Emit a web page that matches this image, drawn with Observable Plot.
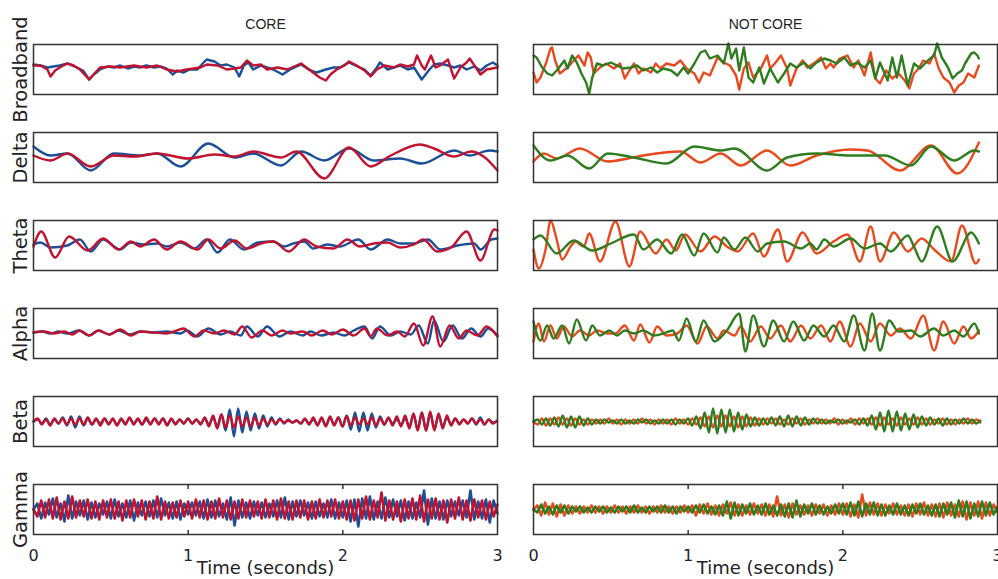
<!DOCTYPE html>
<html><head><meta charset="utf-8">
<script src="https://cdn.jsdelivr.net/npm/d3@7"></script>
<script src="https://cdn.jsdelivr.net/npm/@observablehq/plot@0.6"></script>
<style>body{margin:0;background:#fff}</style>
</head><body><div id="chart"></div>
<script>
const bands = ["Broadband","Delta","Theta","Alpha","Beta","Gamma"];
const columns = ["CORE","NOT CORE"];
const xTicks = [0,1,2,3];
const innerTicks = [1,2];
const xLabel = "Time (seconds)";
const seriesColors = {blue:"#1b4f97", red:"#c1122f", orange:"#e8491d", green:"#2e7d1f"};

// [time (s), amplitude] pairs
const broadbandCoreBlue = [[0,5],[0.045,4],[0.09,2],[0.13,3],[0.17,4],[0.22,6],[0.25,4],[0.28,2],[0.32,-1],[0.36,-10],[0.39,-5],[0.43,0],[0.48,3],[0.52,2],[0.56,4],[0.61,1],[0.65,3],[0.69,2],[0.73,4],[0.78,2],[0.82,3],[0.86,1],[0.90,-5],[0.93,-1],[0.97,-3],[1.01,0],[1.06,0],[1.10,7],[1.12,10],[1.17,8],[1.21,4],[1.25,5],[1.30,2],[1.33,-7],[1.36,4],[1.39,7],[1.42,0],[1.47,4],[1.51,2],[1.55,0],[1.61,-5],[1.66,0],[1.73,5],[1.78,0],[1.83,-3],[1.89,0],[1.94,2],[1.98,2],[2.04,7],[2.08,4],[2.14,0],[2.18,-6],[2.22,2],[2.24,7],[2.29,0],[2.33,2],[2.37,4],[2.42,0],[2.46,2],[2.51,-10],[2.56,0],[2.59,5],[2.63,6],[2.68,4],[2.72,2],[2.76,4],[2.80,0],[2.85,3],[2.89,-1],[2.93,4],[2.97,7],[3.0,4]];
const broadbandCoreRed = [[0,4],[0.045,4],[0.09,0],[0.11,-7],[0.14,-1],[0.18,3],[0.22,6],[0.26,4],[0.30,0],[0.36,-10],[0.40,-3],[0.43,2],[0.50,3],[0.56,2],[0.65,4],[0.73,2],[0.80,4],[0.86,0],[0.93,-2],[0.99,0],[1.08,2],[1.12,5],[1.19,4],[1.25,0],[1.30,1],[1.34,2],[1.38,9],[1.42,4],[1.47,5],[1.51,0],[1.58,2],[1.64,0],[1.73,6],[1.79,-1],[1.85,-8],[1.89,-11],[1.92,-5],[1.96,0],[2.01,4],[2.04,8],[2.09,4],[2.14,-1],[2.18,-7],[2.22,0],[2.27,4],[2.33,2],[2.37,5],[2.42,3],[2.46,5],[2.48,14],[2.51,4],[2.53,0],[2.57,14],[2.60,2],[2.63,4],[2.68,10],[2.70,0],[2.72,-9],[2.76,2],[2.80,7],[2.82,11],[2.86,2],[2.89,-5],[2.93,0],[3.0,2]];
const broadbandNotCoreOrange = [[0,-3],[0.02,-13],[0.045,-8],[0.08,6],[0.11,21],[0.12,22],[0.14,9],[0.17,-4],[0.22,2],[0.26,9],[0.29,14],[0.33,4],[0.35,17],[0.37,12],[0.39,-4],[0.43,2],[0.47,6],[0.52,1],[0.56,6],[0.59,-9],[0.62,-1],[0.65,6],[0.68,-4],[0.71,1],[0.76,-3],[0.79,6],[0.82,1],[0.86,6],[0.91,4],[0.95,9],[0.99,1],[1.04,-4],[1.07,-13],[1.10,-3],[1.14,-6],[1.19,12],[1.23,7],[1.27,4],[1.31,-6],[1.33,-20],[1.36,1],[1.39,7],[1.42,-8],[1.47,1],[1.51,14],[1.53,1],[1.56,6],[1.60,14],[1.64,1],[1.66,-16],[1.70,1],[1.74,9],[1.77,2],[1.82,7],[1.86,12],[1.89,1],[1.92,6],[1.94,2],[1.98,11],[2.03,14],[2.07,2],[2.10,9],[2.14,-6],[2.18,17],[2.21,-9],[2.24,-14],[2.28,-1],[2.32,-9],[2.36,-4],[2.40,-11],[2.43,-19],[2.46,-4],[2.49,1],[2.52,9],[2.56,6],[2.59,16],[2.62,1],[2.65,-8],[2.69,-13],[2.72,-23],[2.75,-16],[2.78,-13],[2.81,-4],[2.85,-8],[2.88,4]];
const broadbandNotCoreGreen = [[0,14],[0.02,12],[0.056,2],[0.09,-4],[0.12,-6],[0.15,-1],[0.20,9],[0.22,1],[0.25,14],[0.28,7],[0.31,-4],[0.34,-13],[0.36,-24],[0.38,-8],[0.41,6],[0.45,4],[0.50,7],[0.54,4],[0.58,1],[0.63,2],[0.67,4],[0.71,-1],[0.76,2],[0.80,-3],[0.84,1],[0.89,-1],[0.93,-6],[0.97,2],[1.00,-4],[1.04,6],[1.08,17],[1.11,19],[1.14,11],[1.19,14],[1.23,6],[1.26,26],[1.28,11],[1.31,21],[1.33,-1],[1.36,22],[1.39,-8],[1.42,-13],[1.46,2],[1.49,-14],[1.53,1],[1.58,-13],[1.62,-4],[1.66,6],[1.70,2],[1.75,7],[1.79,1],[1.83,7],[1.88,11],[1.92,9],[1.96,6],[2.01,12],[2.05,4],[2.09,7],[2.14,2],[2.18,9],[2.21,-9],[2.24,7],[2.29,-11],[2.32,12],[2.35,-8],[2.38,14],[2.42,-16],[2.46,6],[2.50,1],[2.55,9],[2.59,14],[2.61,26],[2.64,12],[2.68,2],[2.71,-9],[2.74,-4],[2.77,-1],[2.79,6],[2.83,16],[2.85,17],[2.87,14],[2.88,11]];

const deltaCoreBlue = [[0,11],[0.11,2],[0.22,4],[0.37,-13],[0.52,4],[0.69,2],[0.80,4],[0.95,-9],[1.13,14],[1.30,0],[1.42,4],[1.60,-8],[1.73,6],[1.88,-3],[2.04,9],[2.20,-3],[2.37,-1],[2.51,-6],[2.72,7],[2.82,2],[2.95,7],[3.0,6]];
const deltaCoreRed = [[0,2],[0.11,-3],[0.22,4],[0.37,-9],[0.52,2],[0.65,1],[0.80,4],[1.0,-1],[1.17,3],[1.30,1],[1.42,6],[1.60,0],[1.70,6],[1.88,-21],[2.04,10],[2.18,-9],[2.31,2],[2.50,13],[2.59,9],[2.72,1],[2.83,6],[2.91,1],[3.0,-13]];
const deltaNotCoreOrange = [[0,-4],[0.067,4],[0.15,-1],[0.30,9],[0.48,-4],[0.61,-1],[0.71,2],[0.95,6],[1.08,-5],[1.21,4],[1.34,-8],[1.51,7],[1.66,-8],[1.83,2],[2.05,8],[2.16,7],[2.37,-13],[2.57,12],[2.74,-16],[2.88,15]];
const deltaNotCoreGreen = [[0,12],[0.11,-3],[0.22,2],[0.36,-11],[0.48,4],[0.65,0],[0.86,-6],[1.04,11],[1.21,7],[1.30,9],[1.51,-13],[1.64,0],[1.83,4],[2.05,2],[2.27,2],[2.44,-8],[2.57,11],[2.72,-3],[2.85,7],[2.88,6]];

const thetaCoreBlue = [[0,1],[0.045,3],[0.11,-2],[0.22,0],[0.30,6],[0.37,-6],[0.45,6],[0.56,-4],[0.63,3],[0.71,1],[0.80,2],[0.86,-1],[0.95,3],[1.04,-3],[1.12,6],[1.19,-7],[1.27,6],[1.36,-4],[1.45,3],[1.55,4],[1.62,-1],[1.68,2],[1.75,4],[1.81,-3],[1.90,1],[1.98,-1],[2.10,6],[2.18,-4],[2.29,6],[2.37,2],[2.46,2],[2.55,6],[2.63,-4],[2.74,0],[2.85,2],[2.89,-4],[2.96,6],[3.0,7]];
const thetaCoreRed = [[0,-1],[0.05,14],[0.14,-12],[0.23,9],[0.35,-5],[0.45,7],[0.55,-4],[0.63,4],[0.69,-1],[0.78,6],[0.86,-4],[0.95,4],[1.06,-4],[1.13,6],[1.21,-3],[1.30,5],[1.38,-3],[1.47,2],[1.55,4],[1.65,-6],[1.75,6],[1.83,-1],[1.94,-3],[2.03,6],[2.11,-1],[2.20,2],[2.29,3],[2.37,-2],[2.46,1],[2.52,6],[2.61,-6],[2.70,-2],[2.80,14],[2.89,-15],[2.98,16],[3.0,15]];
const thetaNotCoreOrange = [[0,-4],[0.034,-23],[0.078,-4],[0.11,25],[0.15,6],[0.185,-14],[0.24,-1],[0.27,4],[0.325,-1],[0.36,12],[0.43,-16],[0.53,24],[0.62,-21],[0.69,14],[0.79,-8],[0.86,6],[0.92,-5],[0.98,11],[1.08,-6],[1.17,9],[1.25,-1],[1.32,-6],[1.42,12],[1.49,-11],[1.58,16],[1.64,-16],[1.74,13],[1.83,-8],[1.94,4],[2.03,11],[2.11,-16],[2.18,19],[2.24,-16],[2.33,13],[2.42,-6],[2.51,7],[2.59,-4],[2.70,-16],[2.77,20],[2.86,-18],[2.88,-14]];
const thetaNotCoreGreen = [[0,6],[0.045,10],[0.15,-8],[0.26,5],[0.38,-5],[0.50,2],[0.65,11],[0.71,-4],[0.80,6],[0.89,-8],[0.96,11],[1.04,-10],[1.10,12],[1.19,-7],[1.23,8],[1.30,-4],[1.37,8],[1.45,-6],[1.51,2],[1.62,4],[1.73,-3],[1.79,2],[1.83,-4],[1.88,6],[1.94,-1],[2.05,7],[2.14,-3],[2.24,2],[2.31,-6],[2.42,10],[2.46,-1],[2.51,-16],[2.61,19],[2.71,-16],[2.83,13],[2.88,2]];

const alphaCoreBlue = [[0,1],[0.056,2],[0.11,0],[0.16,2],[0.22,0],[0.29,3],[0.36,-2],[0.42,3],[0.49,-1],[0.55,3],[0.62,-1],[0.69,2],[0.78,1],[0.86,2],[0.95,0],[0.99,3],[1.06,-3],[1.13,5],[1.21,-1],[1.27,2],[1.34,-2],[1.38,7],[1.45,-3],[1.51,7],[1.59,-3],[1.66,2],[1.74,-2],[1.79,2],[1.86,-2],[1.94,1],[2.01,-2],[2.07,3],[2.14,7],[2.19,-5],[2.24,7],[2.31,-2],[2.37,2],[2.44,-1],[2.49,8],[2.55,-10],[2.59,13],[2.65,-8],[2.71,8],[2.77,-5],[2.83,5],[2.89,-3],[2.94,5],[3.0,-2]];
const alphaCoreRed = [[0,1],[0.067,2],[0.13,0],[0.20,2],[0.25,-1],[0.30,3],[0.36,-2],[0.42,3],[0.49,-1],[0.56,4],[0.63,-2],[0.69,2],[0.78,1],[0.86,0],[0.91,2],[0.97,5],[1.04,-3],[1.10,3],[1.17,0],[1.23,3],[1.30,-1],[1.35,7],[1.41,-4],[1.48,3],[1.54,-2],[1.61,3],[1.66,0],[1.74,2],[1.80,-2],[1.87,3],[1.93,-1],[2.0,4],[2.07,-2],[2.14,5],[2.18,-3],[2.22,5],[2.29,-2],[2.35,2],[2.40,-3],[2.46,10],[2.52,-12],[2.58,17],[2.63,-13],[2.69,8],[2.75,-5],[2.80,3],[2.87,-2],[2.93,7],[3.0,-3]];
const alphaNotCoreOrange = [[0,-8],[0.034,10],[0.067,-8],[0.11,8],[0.15,-5],[0.196,7],[0.25,-3],[0.30,3],[0.36,-2],[0.41,3],[0.48,0],[0.53,0],[0.59,8],[0.65,-7],[0.69,9],[0.75,-9],[0.80,7],[0.86,-2],[0.93,0],[0.99,8],[1.06,-10],[1.12,7],[1.19,-5],[1.23,3],[1.30,-2],[1.34,7],[1.40,-8],[1.47,7],[1.53,-5],[1.60,8],[1.66,-8],[1.73,8],[1.79,-5],[1.86,8],[1.92,-8],[1.98,12],[2.05,-13],[2.11,10],[2.18,-8],[2.24,10],[2.31,-2],[2.37,5],[2.44,-5],[2.52,18],[2.59,-17],[2.65,12],[2.72,-10],[2.78,7],[2.83,-5],[2.88,3]];
const alphaNotCoreGreen = [[0,12],[0.045,-7],[0.088,8],[0.13,-5],[0.185,8],[0.23,-10],[0.28,14],[0.34,-7],[0.38,8],[0.43,-2],[0.49,3],[0.54,-2],[0.59,3],[0.65,0],[0.71,3],[0.78,-2],[0.84,0],[0.90,3],[0.94,-7],[0.99,15],[1.05,-8],[1.10,13],[1.17,-8],[1.25,3],[1.33,20],[1.37,-18],[1.42,18],[1.49,-13],[1.55,13],[1.62,-8],[1.68,12],[1.75,-7],[1.81,8],[1.88,-3],[1.94,8],[2.01,-8],[2.07,18],[2.14,-17],[2.19,20],[2.24,-17],[2.30,13],[2.36,2],[2.44,3],[2.50,-3],[2.59,5],[2.65,-2],[2.72,3],[2.78,-3],[2.85,10],[2.88,0]];

// successive peaks/troughs at a fixed sample step (seconds)
const betaStep = 0.027;
const betaCoreBlue = [0,2,-2,3,-3,2,-2,4,-4,5, -6,5,-4,3,-3,2,-2,3,-2,2, -3,2,-2,3,-2,2,-3,2,-2,3, -2,3,-3,2,-2,2,-2,3,-2,2, -2,3,-3,4,-5,7,-9,12,-15,13, -11,10,-9,8,-7,6,-5,4,-3,3, -2,2,-1,1,-2,2,-2,2,-3,3, -4,4,-3,4,-5,6,-8,9,-10,9, -9,8,-6,5,-3,3,-2,2,-3,3, -5,7,-8,9,-9,8,-7,6,-5,4, -3,3,-2,2,-2,3,-3,4,-3,2, -1,0];
const betaCoreRed = [0,3,-3,2,-4,3,-2,3,-3,3, -3,3,-3,4,-3,3,-4,3,-3,3, -4,3,-3,4,-3,3,-3,4,-3,3, -3,3,-4,3,-3,2,-2,3,-2,2, -3,4,-5,6,-7,7,-6,6,-6,5, -5,4,-5,4,-4,3,-3,2,-2,2, -1,1,-1,1,-2,3,-3,4,-4,4, -5,5,-4,4,-5,5,-4,4,-3,3, -3,4,-4,3,-3,4,-4,5,-5,6, -7,8,-9,9,-9,10,-9,8,-7,6, -4,3,-3,2,-2,3,-2,2,-3,2, -2,1];
const betaNotCoreOrange = [0,-3,3,-4,3,-3,4,-3,3,-4, 3,-3,2,-3,2,-2,2,-2,3,-2, 2,-3,2,-2,2,-2,3,-2,2,-3, 2,-2,2,-3,3,-2,2,-3,3,-3, 4,-5,5,-6,6,-5,6,-5,5,-6, 5,-5,4,-4,3,-3,3,-2,3,-3, 2,-3,3,-2,3,-3,2,-2,3,-2, 2,-2,3,-3,2,-2,3,-3,3,-2, 3,-3,4,-4,4,-3,3,-4,4,-3, 3,-3,4,-3,3,-3,2,-2,3,-3, 2,-3,2,-2,3,-2,2,-1];
const betaNotCoreGreen = [0,2,-3,3,-4,4,-5,6,-6,5, -6,5,-4,3,-3,2,-2,2,-1,1, -2,2,-2,1,-2,2,-1,2,-2,1, -2,2,-2,2,-3,2,-2,3,-4,5, -7,9,-11,13,-12,12,-11,12,-10,9, -8,7,-5,4,-4,3,-3,4,-4,5, -5,6,-5,5,-4,4,-3,3,-2,2, -2,1,-1,2,-2,1,-1,2,-3,3, -4,6,-8,9,-10,11,-10,10,-9,8, -8,7,-6,5,-4,4,-3,3,-4,3, -3,2,-2,3,-2,2,-2,1];

const gammaStep = 0.025;
const gammaCoreBlue = [0,6,-9,7,-5,11,-8,6,-12,14, -9,8,-6,9,-10,7,-8,6,-5,8, -9,10,-7,6,-8,9,-11,7,-6,8, -7,9,-8,11,-6,7,-9,8,-10,6, -5,7,-6,8,-9,10,-8,9,-7,6, -10,12,-16,9,-8,7,-9,8,-6,7, -8,6,-7,9,-8,12,-10,8,-7,9, -6,7,-9,8,-7,6,-8,10,-9,7, -8,9,-12,10,-17,11,-9,13,-10,8, -9,12,-8,10,-7,9,-11,8,-9,7, -8,19,-15,11,-9,8,-10,9,-7,8, -6,9,-8,19,-10,8,-9,10,-13,9, -4];
const gammaCoreRed = [0,-7,9,-8,10,-9,12,-10,8,-9, 13,-8,9,-7,10,-9,8,-10,9,-8, 10,-9,8,-11,9,-8,10,-7,9,-10, 8,-9,13,-10,8,-9,7,-8,9,-7, 8,-9,10,-8,9,-10,8,-9,11,-8, 9,-10,8,-9,10,-8,9,-7,8,-9, 10,-8,9,-10,11,-9,8,-10,9,-8, 9,-10,8,-9,10,-8,9,-7,10,-9, 8,-10,9,-11,10,-9,13,-10,9,-8, 17,-11,9,-10,8,-12,10,-9,11,-10, 14,-12,10,-9,11,-10,9,-13,10,-9, 12,-10,9,-11,10,-8,9,-10,8,-7, 5];
const gammaNotCoreOrange = [0,4,-6,7,-5,6,-7,5,-6,4, -4,3,-4,3,-3,4,-3,3,-4,3, -3,4,-3,3,-4,3,-3,4,-3,3, -4,3,-3,4,-3,3,-4,3,-3,4, -3,4,-6,5,-4,6,-5,4,-6,5, -4,7,-6,5,-6,4,-5,6,-4,5, -6,5,-7,13,-6,5,-8,6,-5,4, -5,4,-6,5,-4,5,-6,4,-5,6, -5,6,-7,5,-8,15,-6,7,-5,6, -6,5,-4,6,-5,4,-6,5,-7,6, -5,7,-6,5,-7,6,-8,7,-6,5, -7,8,-10,7,-6,8,-9,7,-6,5, -3];
const gammaNotCoreGreen = [0,-3,5,-4,3,-5,4,-3,4,-4, 3,-2,3,-3,2,-3,3,-2,3,-3, 2,-3,3,-2,3,-3,4,-3,2,-3, 3,-2,3,-3,4,-3,3,-4,3,-2, 3,-3,4,-3,5,-4,3,-5,4,-6, 8,-9,7,-6,5,-4,6,-5,4,-5, 6,-5,4,-6,5,-7,6,-8,9,-7, 5,-4,6,-5,4,-5,3,-4,5,-4, 6,-5,7,-6,8,-7,6,-5,7,-6, 5,-6,4,-5,6,-5,4,-6,5,-4, 6,-5,4,-6,5,-7,6,-5,7,-8, 9,-7,8,-9,6,-7,8,-6,7,-5, 3];

const sampled = (vals, step) => vals.map((v, i) => [+(i * step).toFixed(4), v]);

const traceList = [
  ["CORE","Broadband","blue",broadbandCoreBlue],
  ["CORE","Broadband","red",broadbandCoreRed],
  ["NOT CORE","Broadband","orange",broadbandNotCoreOrange],
  ["NOT CORE","Broadband","green",broadbandNotCoreGreen],
  ["CORE","Delta","blue",deltaCoreBlue],
  ["CORE","Delta","red",deltaCoreRed],
  ["NOT CORE","Delta","orange",deltaNotCoreOrange],
  ["NOT CORE","Delta","green",deltaNotCoreGreen],
  ["CORE","Theta","blue",thetaCoreBlue],
  ["CORE","Theta","red",thetaCoreRed],
  ["NOT CORE","Theta","orange",thetaNotCoreOrange],
  ["NOT CORE","Theta","green",thetaNotCoreGreen],
  ["CORE","Alpha","blue",alphaCoreBlue],
  ["CORE","Alpha","red",alphaCoreRed],
  ["NOT CORE","Alpha","orange",alphaNotCoreOrange],
  ["NOT CORE","Alpha","green",alphaNotCoreGreen],
  ["CORE","Beta","blue",sampled(betaCoreBlue, betaStep)],
  ["CORE","Beta","red",sampled(betaCoreRed, betaStep)],
  ["NOT CORE","Beta","orange",sampled(betaNotCoreOrange, betaStep)],
  ["NOT CORE","Beta","green",sampled(betaNotCoreGreen, betaStep)],
  ["CORE","Gamma","blue",sampled(gammaCoreBlue, gammaStep)],
  ["CORE","Gamma","red",sampled(gammaCoreRed, gammaStep)],
  ["NOT CORE","Gamma","orange",sampled(gammaNotCoreOrange, gammaStep)],
  ["NOT CORE","Gamma","green",sampled(gammaNotCoreGreen, gammaStep)]
];

const curveFor = {Broadband:"linear", Delta:"monotone-x", Theta:"monotone-x", Alpha:"monotone-x", Beta:"monotone-x", Gamma:"linear"};

const lineMarks = traceList.map(([col, band, series, pts]) =>
  Plot.line(pts.map(([t, v]) => ({col, band, t, v})), {
    x: "t", y: "v", fx: "col", fy: "band",
    stroke: seriesColors[series], strokeWidth: band === "Gamma" ? 2.6 : 2.4,
    strokeLinejoin: "round", curve: curveFor[band]
  })
);

const labelRows = columns.map(col => ({col, band: "Gamma", label: xLabel}));

const chart = Plot.plot({
  width: 998, height: 579,
  marginLeft: 33, marginRight: 1, marginTop: 42, marginBottom: 43,
  style: {fontFamily: "DejaVu Sans, sans-serif", background: "#fff", color: "#222"},
  x: {domain: [0, 3]},
  y: {domain: [-25, 25], axis: null},
  fx: {domain: columns, paddingInner: 0.072, paddingOuter: 0},
  fy: {domain: bands, paddingInner: 0.437, paddingOuter: 0},
  marks: [
    ...lineMarks,
    Plot.frame({stroke: "#333", strokeWidth: 1.5}),
    Plot.axisFx({anchor: "top", tickSize: 0, tickPadding: 16, label: null, fontSize: 14, fontFamily: "Liberation Sans, Arial, sans-serif"}),
    Plot.axisFy({anchor: "left", tickSize: 0, tickPadding: 7, tickRotate: -90, label: null, fontSize: 19.5}),
    Plot.axisX({anchor: "bottom", ticks: xTicks, tickSize: 0, tickPadding: 15, fontSize: 16, label: null, tickFormat: d => String(d)}),
    Plot.axisX({anchor: "bottom", ticks: innerTicks, tickSize: -4, tickFormat: () => "", label: null, stroke: "#333", strokeWidth: 1.5}),
    Plot.axisX({anchor: "top", facetAnchor: "bottom", ticks: innerTicks, tickSize: -4, tickFormat: () => "", label: null, stroke: "#333", strokeWidth: 1.5}),
    Plot.text(labelRows, {fx: "col", fy: "band", text: "label", frameAnchor: "bottom", dy: 39, fontSize: 18, fill: "#222"})
  ]
});
document.getElementById("chart").appendChild(chart);
</script></body></html>
